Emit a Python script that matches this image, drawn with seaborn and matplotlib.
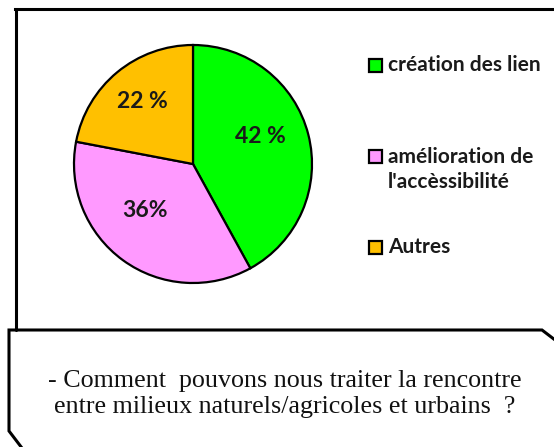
import matplotlib
matplotlib.use("Agg")
import matplotlib.pyplot as plt
from matplotlib.patches import Rectangle, Polygon
from matplotlib.lines import Line2D
import numpy as np
import seaborn as sns

# Survey shares (percent)
categories = ["création des lien", "amélioration de\nl'accèssibilité", "Autres"]
shares = [42, 36, 22]
share_labels = ["42 %", "36%", "22 %"]
slice_colors = ["#00FF00", "#FF99FF", "#FFC000"]
question = ("- Comment  pouvons nous traiter la rencontre\n"
            "entre milieux naturels/agricoles et urbains  ?")

sns.set_theme(style="white")
plt.rcParams["font.family"] = ["Lato", "DejaVu Sans"]
palette = sns.color_palette(slice_colors)

W, H = 554, 447
fig = plt.figure(figsize=(W / 100, H / 100), dpi=100)
fig.patch.set_facecolor("white")

# Page-space layer (pixel coordinates) for frames and legend
page = fig.add_axes([0, 0, 1, 1])
page.set_xlim(0, W)
page.set_ylim(H, 0)
page.axis("off")

# Chart frame: top and left edges
page.add_line(Line2D([15, W + 5], [9, 9], color="black", lw=2.2, solid_capstyle="projecting"))
page.add_line(Line2D([16, 16], [9, 330], color="black", lw=2.2))

# Question box with clipped corners
box = Polygon([(25, H + 5), (9, 431), (9, 330), (542, 330), (W + 5, 343), (W + 5, H + 5)],
              closed=False, facecolor="white", edgecolor="black", lw=2.2, joinstyle="miter")
page.add_patch(box)
page.text(285, 394, question, ha="center", va="center", fontsize=18.7,
          family=["Liberation Serif", "DejaVu Serif"], color="#111111", linespacing=1.2)

# Pie chart
cx, cy, r = 193, 164, 119
pie_ax = fig.add_axes([(cx - r) / W, 1 - (cy + r) / H, 2 * r / W, 2 * r / H])
wedges, _ = pie_ax.pie(shares, colors=palette, startangle=90, counterclock=False,
                       wedgeprops=dict(edgecolor="black", linewidth=1.6))
pie_ax.set_xlim(-1.0, 1.0)
pie_ax.set_ylim(-1.0, 1.0)
pie_ax.set_aspect("equal")

# label placement: (angular shift in degrees, radius fraction)
label_place = [(7.5, 0.61), (-10, 0.56), (-0.5, 0.68)]
for w, txt, (shift, rad) in zip(wedges, share_labels, label_place):
    ang = np.deg2rad((w.theta1 + w.theta2) / 2 + shift)
    pie_ax.text(rad * np.cos(ang), rad * np.sin(ang), txt, ha="center", va="center",
                fontsize=16.5, fontweight="bold", color="#1a1a1a")

# Legend entries
legend_y = [65, 156, 247]
for y, lab, col in zip(legend_y, categories, palette):
    page.add_patch(Rectangle((369, y - 6.5), 13, 13, facecolor=col, edgecolor="black", lw=1.6))
    n = lab.count("\n")
    page.text(388, y + n * 13.5, lab, ha="left", va="center", fontsize=15,
              fontweight="bold", color="#1a1a1a", linespacing=1.3)

fig.savefig("out.png", dpi=100, facecolor="white")
